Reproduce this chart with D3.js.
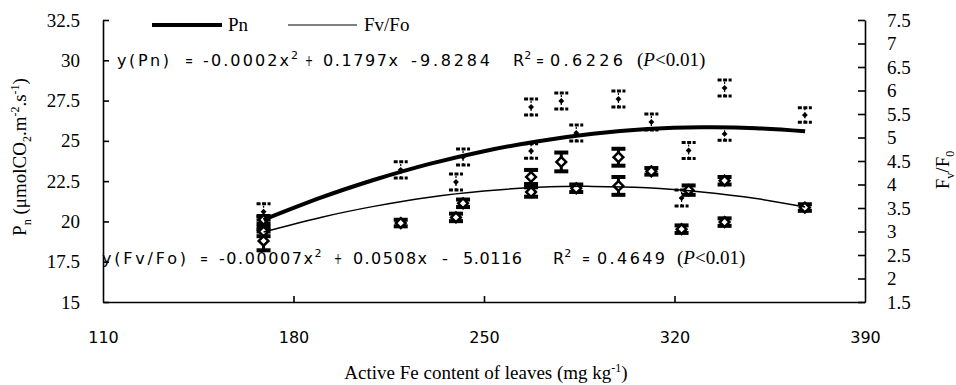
<!DOCTYPE html>
<html>
<head>
<meta charset="utf-8">
<script src="https://cdn.jsdelivr.net/npm/d3@7"></script>
<style>
  body { margin: 0; background: #fff; }
  svg { display: block; }
</style>
</head>
<body>
<div id="chart"></div>
<script>
// Pn measurements (left axis)
var pnX   = [169, 169, 219.4, 239.7, 242.3, 267.3, 267.3, 278.4, 283.9, 299.4, 311.5, 322.6, 325.2, 338.4, 338.4, 367.9];
var pnY   = [20.6, 19.9, 23.2, 22.45, 24.0, 27.1, 24.37, 27.47, 25.49, 27.6, 26.17, 21.45, 24.4, 28.28, 25.43, 26.6];
var pnErr = [0.5, 0.4, 0.5, 0.5, 0.5, 0.5, 0.45, 0.5, 0.5, 0.5, 0.5, 0.5, 0.5, 0.5, 0.4, 0.45];

// Fv/Fo measurements (right axis)
var fvX   = [169, 169, 169, 219.4, 239.7, 242.3, 267.3, 267.3, 278.4, 283.9, 299.4, 299.4, 311.5, 322.6, 325.2, 338.4, 338.4, 367.9];
var fvY   = [3.25, 3.0, 2.8, 3.18, 3.3, 3.6, 4.16, 3.84, 4.48, 3.92, 4.58, 3.97, 4.28, 3.05, 3.88, 4.08, 3.2, 3.51];
var fvErr = [0.08, 0.1, 0.2, 0.07, 0.08, 0.08, 0.15, 0.1, 0.2, 0.08, 0.18, 0.19, 0.07, 0.08, 0.1, 0.08, 0.08, 0.07];

// trend lines
var trendX  = [169, 190, 210, 230, 250, 270, 290, 310, 330, 350, 368];
var pnTrend = [20.1, 21.47, 22.6, 23.57, 24.36, 24.98, 25.44, 25.73, 25.84, 25.79, 25.6];
var fvTrend = [2.99, 3.3, 3.54, 3.73, 3.86, 3.94, 3.96, 3.93, 3.84, 3.7, 3.52];

// ticks
var xTicks  = [110, 180, 250, 320, 390];
var yLTicks = [15, 17.5, 20, 22.5, 25, 27.5, 30, 32.5];
var yRTicks = [1.5, 2, 2.5, 3, 3.5, 4, 4.5, 5, 5.5, 6, 6.5, 7, 7.5];

var W = 956, H = 385;
var pLeft = 103, pRight = 865, pTop = 20, pBottom = 302;

var serif = "'Liberation Serif', 'Times New Roman', serif";
var sans = "'DejaVu Sans', 'Noto Sans', sans-serif";

var svg = d3.select("#chart").append("svg").attr("width", W).attr("height", H);

var x  = d3.scaleLinear().domain([110, 390]).range([pLeft, pRight]);
var yL = d3.scaleLinear().domain([15, 32.5]).range([pBottom, pTop]);
var yR = d3.scaleLinear().domain([1.5, 7.5]).range([pBottom, pTop]);

// axes
var gx = svg.append("g").attr("transform", "translate(0," + pBottom + ")")
    .call(d3.axisBottom(x).tickValues(xTicks).tickSizeInner(-6).tickSizeOuter(0).tickPadding(30).tickFormat(d3.format("d")));
gx.selectAll("text").style("font-family", sans).style("font-size", "16px").attr("fill", "#000");

var gl = svg.append("g").attr("transform", "translate(" + pLeft + ",0)")
    .call(d3.axisLeft(yL).tickValues(yLTicks).tickSizeInner(-6).tickSizeOuter(0).tickPadding(23).tickFormat(function(d){ return d; }));
gl.selectAll("text").style("font-family", serif).style("font-size", "19px").attr("fill", "#000");

var gr = svg.append("g").attr("transform", "translate(" + pRight + ",0)")
    .call(d3.axisRight(yR).tickValues(yRTicks).tickSizeInner(-7).tickSizeOuter(0).tickPadding(22).tickFormat(function(d){ return d; }));
gr.selectAll("text").style("font-family", serif).style("font-size", "19px").attr("fill", "#000");

svg.selectAll(".domain").attr("stroke", "#000").attr("stroke-width", 1.6);
svg.selectAll(".tick line").attr("stroke", "#000").attr("stroke-width", 1.6);
gx.selectAll(".tick").filter(function(d){ return d == 110 || d == 390; }).select("line").remove();

// Pn error bars and markers
var pnIdx = d3.range(pnX.length);
var gpn = svg.append("g");
gpn.selectAll(".stem").data(pnIdx).enter().append("line")
    .attr("x1", function(i){ return x(pnX[i]); }).attr("x2", function(i){ return x(pnX[i]); })
    .attr("y1", function(i){ return yL(pnY[i] - pnErr[i]); }).attr("y2", function(i){ return yL(pnY[i] + pnErr[i]); })
    .attr("stroke", "#000").attr("stroke-width", 1.2).attr("stroke-dasharray", "2,2");
[-1, 1].forEach(function(s) {
  gpn.selectAll(".cap" + s).data(pnIdx).enter().append("line")
      .attr("x1", function(i){ return x(pnX[i]) - 7; }).attr("x2", function(i){ return x(pnX[i]) + 7; })
      .attr("y1", function(i){ return yL(pnY[i] + s * pnErr[i]); }).attr("y2", function(i){ return yL(pnY[i] + s * pnErr[i]); })
      .attr("stroke", "#000").attr("stroke-width", 3).attr("stroke-dasharray", "4,1.5");
});
gpn.selectAll(".mk").data(pnIdx).enter().append("path")
    .attr("d", d3.symbol().type(d3.symbolDiamond2).size(22))
    .attr("transform", function(i){ return "translate(" + x(pnX[i]) + "," + yL(pnY[i]) + ")"; })
    .attr("fill", "#000");

// Fv/Fo error bars and markers
var fvIdx = d3.range(fvX.length);
var gfv = svg.append("g");
gfv.selectAll(".stem").data(fvIdx).enter().append("line")
    .attr("x1", function(i){ return x(fvX[i]); }).attr("x2", function(i){ return x(fvX[i]); })
    .attr("y1", function(i){ return yR(fvY[i] - fvErr[i]); }).attr("y2", function(i){ return yR(fvY[i] + fvErr[i]); })
    .attr("stroke", "#000").attr("stroke-width", 3);
[-1, 1].forEach(function(s) {
  gfv.selectAll(".cap" + s).data(fvIdx).enter().append("line")
      .attr("x1", function(i){ return x(fvX[i]) - 7; }).attr("x2", function(i){ return x(fvX[i]) + 7; })
      .attr("y1", function(i){ return yR(fvY[i] + s * fvErr[i]); }).attr("y2", function(i){ return yR(fvY[i] + s * fvErr[i]); })
      .attr("stroke", "#000").attr("stroke-width", 4);
});
gfv.selectAll(".mk").data(fvIdx).enter().append("path")
    .attr("d", d3.symbol().type(d3.symbolDiamond2).size(60))
    .attr("transform", function(i){ return "translate(" + x(fvX[i]) + "," + yR(fvY[i]) + ")"; })
    .attr("fill", "#fff").attr("stroke", "#000").attr("stroke-width", 2.5);

// trend lines
var tIdx = d3.range(trendX.length);
svg.append("path").datum(tIdx)
    .attr("d", d3.line().x(function(i){ return x(trendX[i]); }).y(function(i){ return yL(pnTrend[i]); }).curve(d3.curveNatural))
    .attr("fill", "none").attr("stroke", "#000").attr("stroke-width", 4);
svg.append("path").datum(tIdx)
    .attr("d", d3.line().x(function(i){ return x(trendX[i]); }).y(function(i){ return yR(fvTrend[i]); }).curve(d3.curveNatural))
    .attr("fill", "none").attr("stroke", "#000").attr("stroke-width", 1.5);

// legend
svg.append("line").attr("x1", 152).attr("x2", 222).attr("y1", 25).attr("y2", 25).attr("stroke", "#000").attr("stroke-width", 4);
svg.append("text").attr("x", 228).attr("y", 31).text("Pn").style("font-family", serif).style("font-size", "19px");
svg.append("line").attr("x1", 288).attr("x2", 357).attr("y1", 25).attr("y2", 25).attr("stroke", "#000").attr("stroke-width", 1);
svg.append("text").attr("x", 364).attr("y", 31).text("Fv/Fo").style("font-family", serif).style("font-size", "19px");

// equations: [x, text, width, superscript, squeeze glyphs]
function eq(tokens, yb, px) {
  tokens.forEach(function(t) {
    var tx = svg.append("text").attr("x", t[0]).attr("y", yb).style("font-family", sans).style("font-size", "16px");
    var s = tx.append("tspan").text(t[1]);
    if (t[2]) s.attr("textLength", t[2]).attr("lengthAdjust", t[4] ? "spacingAndGlyphs" : "spacing");
    if (t[3]) tx.append("tspan").text(t[3]).attr("dy", -7).style("font-size", "11px");
  });
  var p = svg.append("text").attr("x", px).attr("y", yb).style("font-family", serif).style("font-size", "19px");
  p.append("tspan").text("(");
  p.append("tspan").text("P").style("font-style", "italic");
  p.append("tspan").text("<0.01)");
}
eq([[117, "y(Pn)", 52], [185, "=", 8, 0, 1], [203, "-0.0002x", 86, "2"], [305, "+", 8, 0, 1], [323, "0.1797x", 75],
    [411, "-", 6, 0, 1], [420, "9.8284", 70], [513, "R", 0, "2"], [536, "=", 8, 0, 1], [550, "0.6226", 73]], 66, 637);
eq([[102, "y(Fv/Fo)", 84], [200, "=", 8, 0, 1], [219, "-0.00007x", 94, "2"], [334, "+", 8, 0, 1], [353, "0.0508x", 74],
    [442, "-", 6, 0, 1], [463, "5.0116", 59], [553, "R", 0, "2"], [582, "=", 8, 0, 1], [597, "0.4649", 68]], 264, 677);

// axis titles
var xt = svg.append("text").attr("x", 486).attr("y", 379).attr("text-anchor", "middle")
    .style("font-family", serif).style("font-size", "19px");
xt.append("tspan").text("Active Fe content of leaves (mg kg");
xt.append("tspan").text("-1").attr("dy", -7).style("font-size", "12px");
xt.append("tspan").text(")").attr("dy", 7);

var yt = svg.append("text").attr("transform", "translate(26,157) rotate(-90)").attr("text-anchor", "middle")
    .style("font-family", serif).style("font-size", "19px");
yt.append("tspan").text("P");
yt.append("tspan").text("n").attr("dy", 5).style("font-size", "12px");
yt.append("tspan").text(" (μmolCO").attr("dy", -5);
yt.append("tspan").text("2").attr("dy", 5).style("font-size", "12px");
yt.append("tspan").text(".m").attr("dy", -5);
yt.append("tspan").text("-2").attr("dy", -7).style("font-size", "12px");
yt.append("tspan").text(".s").attr("dy", 7);
yt.append("tspan").text("-1").attr("dy", -7).style("font-size", "12px");
yt.append("tspan").text(")").attr("dy", 7);

var rt = svg.append("text").attr("transform", "translate(949,170) rotate(-90)").attr("text-anchor", "middle")
    .style("font-family", serif).style("font-size", "19px");
rt.append("tspan").text("F");
rt.append("tspan").text("v").attr("dy", 5).style("font-size", "12px");
rt.append("tspan").text("/F").attr("dy", -5);
rt.append("tspan").text("0").attr("dy", 5).style("font-size", "12px");
</script>
</body>
</html>
